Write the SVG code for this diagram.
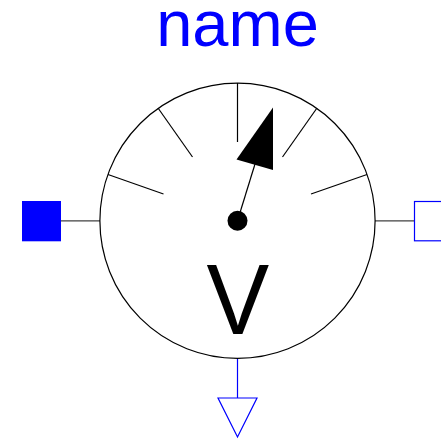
<svg xmlns="http://www.w3.org/2000/svg" width="441" height="439" viewBox="0 0 441 439">
<style>
.k{fill:none;stroke:#000;stroke-width:1.2}
.g{fill:none;stroke:#404040;stroke-width:1.3}
.b{fill:none;stroke:#0000ff;stroke-width:1.2}
text{font-family:"Liberation Sans",Arial,sans-serif;text-anchor:middle}
</style>
<rect width="441" height="439" fill="#fff"/>
<g id="connectors">
<line class="g" x1="61" y1="220.8" x2="100" y2="220.8"/>
<line class="g" x1="375" y1="220.8" x2="414" y2="220.8"/>
<line class="b" x1="237.5" y1="358" x2="237.5" y2="398"/>
</g>
<g id="dial">
<circle class="k" cx="237.5" cy="220.8" r="137.6"/>
<line class="k" x1="237.5" y1="83" x2="237.5" y2="142"/>
<line class="k" x1="158" y1="108" x2="192.5" y2="157"/>
<line class="k" x1="108" y1="174.5" x2="163.5" y2="194"/>
<line class="k" x1="317" y1="108" x2="282.5" y2="157"/>
<line class="k" x1="367" y1="174.5" x2="311" y2="194"/>
<line class="k" x1="237.5" y1="220.8" x2="255" y2="164"/>
<polygon points="273,107.5 273,170 236.5,159.5" fill="#000"/>
<circle cx="237.5" cy="220.8" r="10" fill="#000"/>
<text transform="translate(237.8 333.5) scale(0.94 1)" font-size="100" fill="#000">V</text>
</g>
<g id="name"><text x="237.5" y="46.3" font-size="65" fill="#0000ff">name</text></g>
<g id="port-left"><rect x="22" y="201" width="39" height="40.3" fill="#0000ff"/></g>
<g id="port-right"><rect class="b" x="414.5" y="201.5" width="40" height="39.3" fill="#fff"/></g>
<g id="port-bottom"><polygon class="b" points="218,398 257,398 237.5,437" fill="#fff"/></g>
</svg>
